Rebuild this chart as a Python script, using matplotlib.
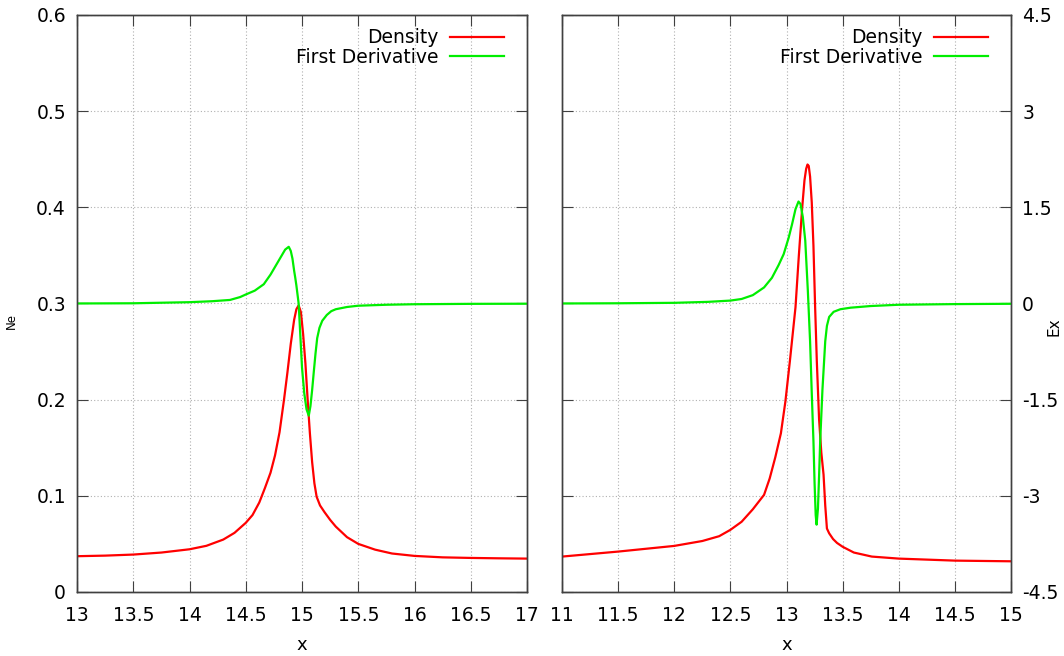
import matplotlib
matplotlib.use("Agg")
import matplotlib.pyplot as plt
import numpy as np

# left panel: density (Ne) and first derivative (Ex)
x_ne_left = [13.0, 13.25, 13.5, 13.75, 14.0, 14.15, 14.3, 14.4, 14.5, 14.56, 14.62,
             14.67, 14.72, 14.76, 14.80, 14.84, 14.87, 14.90, 14.93, 14.95, 14.97,
             14.99, 15.01, 15.03, 15.05, 15.07, 15.09, 15.11, 15.13, 15.16, 15.2,
             15.25, 15.3, 15.4, 15.5, 15.65, 15.8, 16.0, 16.25, 16.5, 16.75, 17.0]
ne_left = [0.0372, 0.0378, 0.0389, 0.0410, 0.0444, 0.0480, 0.0545, 0.0615, 0.0719, 0.080, 0.093,
           0.108, 0.124, 0.142, 0.166, 0.200, 0.228, 0.258, 0.283, 0.294, 0.298,
           0.291, 0.268, 0.238, 0.200, 0.165, 0.135, 0.113, 0.099, 0.090, 0.083,
           0.075, 0.068, 0.057, 0.050, 0.044, 0.040, 0.0375, 0.0360, 0.0354, 0.0350, 0.0347]

x_ex_left = [13.0, 13.5, 14.0, 14.2, 14.36, 14.45, 14.5, 14.58, 14.66, 14.72, 14.77,
             14.81, 14.85, 14.882, 14.9, 14.915, 14.93, 14.94, 14.95, 14.97, 14.985,
             15.0, 15.02, 15.04, 15.06, 15.075, 15.09, 15.105, 15.12, 15.135, 15.155,
             15.18, 15.22, 15.26, 15.3, 15.4, 15.5, 15.75, 16.0, 16.5, 17.0]
ex_left = [0.0, 0.003, 0.02, 0.035, 0.055, 0.10, 0.14, 0.20, 0.30, 0.45, 0.60,
           0.72, 0.84, 0.884, 0.82, 0.70, 0.51, 0.40, 0.28, 0.0, -0.5,
           -1.0, -1.4, -1.65, -1.75, -1.6, -1.35, -1.06, -0.78, -0.54, -0.38,
           -0.27, -0.18, -0.12, -0.09, -0.055, -0.035, -0.02, -0.012, -0.006, -0.004]

# right panel
x_ne_right = [11.0, 11.5, 12.0, 12.25, 12.4, 12.5, 12.6, 12.7, 12.8, 12.85, 12.9,
              12.95, 12.99, 13.03, 13.08, 13.11, 13.14, 13.16, 13.175, 13.187, 13.198,
              13.21, 13.225, 13.24, 13.255, 13.27, 13.29, 13.31, 13.33, 13.345, 13.36,
              13.38, 13.415, 13.45, 13.5, 13.6, 13.76, 14.0, 14.5, 15.0]
ne_right = [0.0368, 0.042, 0.0479, 0.053, 0.058, 0.0646, 0.073, 0.086, 0.101, 0.118, 0.140,
            0.165, 0.198, 0.240, 0.296, 0.350, 0.400, 0.428, 0.440, 0.4445, 0.443,
            0.432, 0.405, 0.360, 0.296, 0.240, 0.180, 0.145, 0.122, 0.090, 0.066,
            0.061, 0.055, 0.051, 0.047, 0.041, 0.0368, 0.0347, 0.0326, 0.0319]

x_ex_right = [11.0, 11.5, 12.0, 12.3, 12.5, 12.6, 12.7, 12.8, 12.87, 12.93, 12.975,
              13.02, 13.05, 13.08, 13.107, 13.125, 13.145, 13.167, 13.19, 13.21, 13.225,
              13.24, 13.25, 13.26, 13.268, 13.28, 13.29, 13.30, 13.32, 13.345, 13.36,
              13.38, 13.42, 13.48, 13.57, 13.75, 14.0, 14.5, 15.0]
ex_right = [0.0, 0.003, 0.01, 0.025, 0.045, 0.07, 0.13, 0.25, 0.40, 0.60, 0.77,
            1.03, 1.24, 1.47, 1.59, 1.55, 1.35, 0.98, 0.2, -0.59, -1.4,
            -2.15, -2.8, -3.3, -3.45, -3.2, -2.7, -2.15, -1.35, -0.59, -0.35,
            -0.21, -0.13, -0.09, -0.066, -0.04, -0.02, -0.01, -0.005]

red = '#ff0000'
green = '#00ee00'
spine_col = '#404040'
plt.rcParams['font.family'] = 'DejaVu Sans'
plt.rcParams['font.size'] = 13.5


def style(ax, ax2, xlim, xticks, left_labels, right_labels):
    ax.set_xlim(*xlim)
    ax.set_ylim(0, 0.6)
    ax2.set_ylim(-4.5, 4.5)
    ax.set_xticks(xticks)
    ax.set_xticklabels([('%g' % t) for t in xticks])
    ax.set_yticks(np.arange(0, 0.61, 0.1))
    ax2.set_yticks(np.arange(-4.5, 4.6, 1.5))
    ax.grid(True, color='#b0b0b0', linestyle=(0, (1, 2)), linewidth=0.8)
    ax.tick_params(direction='in', length=8, top=True, right=False, colors=spine_col,
                   labelcolor='black', labelsize=13.5, pad=8)
    ax2.tick_params(direction='in', length=8, colors=spine_col, labelcolor='black',
                    labelsize=13.5, pad=8)
    ax.tick_params(axis='x', pad=10)
    if left_labels:
        ax.set_yticklabels(['0', '0.1', '0.2', '0.3', '0.4', '0.5', '0.6'])
    else:
        ax.set_yticklabels([])
    if right_labels:
        ax2.set_yticklabels(['-4.5', '-3', '-1.5', '0', '1.5', '3', '4.5'])
    else:
        ax2.set_yticklabels([])
    for a in (ax, ax2):
        for s in a.spines.values():
            s.set_color(spine_col)
            s.set_linewidth(1.0)
    ax.set_xlabel('x', fontsize=13, labelpad=8)


def add_legend(ax, handles):
    ax.legend(handles, ['Density', 'First Derivative'], loc='upper right',
              bbox_to_anchor=(0.978, 1.0), frameon=False, markerfirst=False,
              handlelength=2.9, fontsize=13.5, borderaxespad=0.3,
              labelspacing=0.05, handletextpad=0.6)


fig = plt.figure(figsize=(10.64, 6.56), dpi=100)

ax1 = fig.add_axes([0.0724, 0.0976, 0.4229, 0.8796])
ax1b = ax1.twinx()
style(ax1, ax1b, (13, 17), np.arange(13, 17.01, 0.5), True, False)
l1, = ax1.plot(x_ne_left, ne_left, color=red, linewidth=1.6)
l2, = ax1b.plot(x_ex_left, ex_left, color=green, linewidth=1.6)
ax1.set_ylabel('Ne', fontsize=8.5)
ax1.yaxis.set_label_coords(-0.131, 0.47)
add_legend(ax1b, [l1, l2])

ax2 = fig.add_axes([0.5282, 0.0976, 0.422, 0.8796])
ax2b = ax2.twinx()
style(ax2, ax2b, (11, 15), np.arange(11, 15.01, 0.5), False, True)
r1, = ax2.plot(x_ne_right, ne_right, color=red, linewidth=1.6)
r2, = ax2b.plot(x_ex_right, ex_right, color=green, linewidth=1.6)
ax2b.set_ylabel('Ex', fontsize=11)
ax2b.yaxis.set_label_coords(1.08, 0.46)
add_legend(ax2b, [r1, r2])

fig.savefig('out.png', dpi=100)
